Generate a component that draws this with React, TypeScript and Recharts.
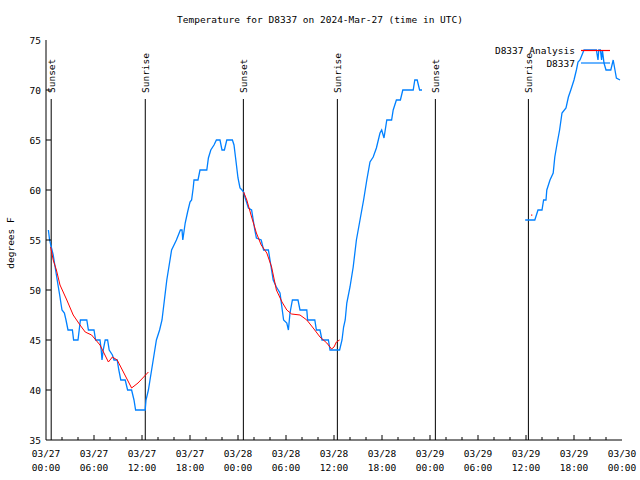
import React from 'react';
import { LineChart, Line, XAxis, YAxis, ReferenceLine, Legend } from 'recharts';

const FONT = "'DejaVu Sans Mono', 'Liberation Mono', monospace";
const FS = 9.5;

// hours since 2024-03-27 00:00 UTC
const xTicks = [0,2,4,6,8,10,12,14,16,18,20,22,24,26,28,30,32,34,36,38,40,42,44,46,48,50,52,54,56,58,60,62,64,66,68,70,72];
const yTicks = [35, 40, 45, 50, 55, 60, 65, 70, 75];
const dayNames = ['03/27', '03/28', '03/29', '03/30'];

// observed temperature (D8337)
const obsHours = [
  0.3,0.45,0.6,0.75,0.9,1.1,1.3,1.5,1.75,1.9,2.0,2.3,2.5,2.75,3.3,3.45,4.0,4.15,4.3,5.1,5.3,6.0,6.2,6.75,6.9,7.0,7.15,7.4,7.7,7.9,8.3,8.5,8.9,9.1,9.35,9.9,10.2,10.7,11.0,11.2,12.4,12.5,12.8,13.0,13.4,13.8,14.2,14.5,14.8,15.1,15.4,15.7,16.0,16.3,16.8,17.0,17.1,17.4,17.7,18.0,18.2,18.4,18.5,19.0,19.25,20.1,20.3,20.6,21.0,21.3,21.75,22.0,22.3,22.6,23.3,23.5,23.7,24.0,24.25,24.5,24.7,24.9,25.3,25.7,26.1,26.3,26.9,27.2,27.8,28.0,28.4,28.8,29.25,29.7,30.1,30.3,30.5,30.8,31.5,31.75,32.6,32.7,33.6,33.8,34.25,34.5,35.3,35.5,36.7,37.0,37.2,37.4,37.6,38.0,38.4,38.8,39.25,39.7,40.1,40.5,40.9,41.3,41.75,41.96,42.25,42.6,43.2,43.4,43.8,44.3,44.6,45.9,46.1,46.4,46.7,47.0,
  53,
  59.9,61.1,61.5,62.0,62.2,62.5,62.6,63.0,63.4,63.6,63.9,64.2,64.5,65.0,65.3,65.6,66.0,66.3,66.5,66.75,67.25,68.8,69.0,69.1,69.3,69.45,69.55,69.75,70.0,70.6,70.9,71.3,71.75
];
const obsTemps = [
  56,55,54.5,54,53.5,52.5,51.5,50.5,49.3,48.5,48,47.7,47,46,46,45,45,46,47,47,46,46,45,45,44,43,44,45,45,44,43.5,43,43,42,41,41,40,40,39,38,38,39,40,41,43,45,46,47,49,51,52.5,54,54.5,55,56,56,55,56.7,57.8,58.8,59,60.2,61,61,62,62,63.2,64,64.5,65,65,64,64,65,65,64.5,63.2,61.2,60.2,60,59.8,59.2,58.2,58,56,55.2,55,54,54,53,51,50.3,49.7,47,46.7,46,47.7,49,49,48,48,47,47,46,46,45,45,44,44,45,46.3,47,48.7,50.3,52.3,55,57,59,61,62.8,63.3,64.2,65.7,66,65.2,67,67,68,69,69,70,70,71,71,70,70,
  null,
  57,57,58,58,59,59,60,61,61.7,63.3,64.7,66,67.7,68.2,69.3,70,71,72,72.8,73,74,74,73,74,74,73,74,72.7,72,72,73,71.2,71
];

// analysis temperature (D8337 Analysis)
const anaHours = [
  0.58,0.9,1.3,1.75,2.6,3.4,4.25,4.9,5.7,6.75,7.8,8.3,8.9,10.7,11.5,12.8,
  18,
  24.7,25.1,25.7,26.3,26.9,27.6,28.2,28.8,29.5,30.1,30.7,31.75,32.6,33.4,34.25,35.1,35.7,36.0,36.3,36.7,
  48,
  60.7,
  61
];
const anaTemps = [
  54.3,53,52,50.5,49,47.5,46.5,45.8,45.5,44.5,42.8,43.3,43,40.2,40.7,41.8,
  null,
  59.8,59,57.3,55.7,54.5,53.7,52.3,50,48.8,48,47.6,47.5,47,46.2,45.3,44.7,44.1,44.3,44.8,45,
  null,
  57.5,
  null
];

const sunEvents = ['Sunset', 'Sunrise', 'Sunset', 'Sunrise', 'Sunset', 'Sunrise'];
const sunHours = [0.65, 12.41, 24.67, 36.42, 48.67, 60.3];
const sunLineTop = 69.1;

const obsData = obsHours.map((h, i) => ({ h, t: obsTemps[i] }));
const anaData = anaHours.map((h, i) => ({
  h,
  t: anaTemps[i],
  iso: anaTemps[i] !== null && (i === 0 || anaTemps[i - 1] === null) && (i === anaHours.length - 1 || anaTemps[i + 1] === null),
}));

const BottomTick = (props: any) => {
  const { x, y, payload } = props;
  const v = payload.value as number;
  const major = v % 6 === 0;
  const len = major ? 5 : 3;
  return (
    <g>
      {v > 0 && v < 72 && <line x1={x} y1={y} x2={x} y2={y - len} stroke="#000" />}
      {major && (
        <text x={x} y={y + 16.5} textAnchor="middle" fontFamily={FONT} fontSize={FS} fill="#000">
          {dayNames[Math.floor(v / 24)]}
        </text>
      )}
      {major && (
        <text x={x} y={y + 30.5} textAnchor="middle" fontFamily={FONT} fontSize={FS} fill="#000">
          {String(v % 24).padStart(2, '0') + ':00'}
        </text>
      )}
    </g>
  );
};

const TopTick = (props: any) => {
  const { x, y, payload } = props;
  const v = payload.value as number;
  const len = v % 6 === 0 ? 5 : 3;
  if (v <= 0 || v >= 72) return <g />;
  return <line x1={x} y1={y} x2={x} y2={y + len} stroke="#000" />;
};

const LeftTick = (props: any) => {
  const { x, y, payload } = props;
  const v = payload.value as number;
  return (
    <g>
      {v > 35 && v < 75 && <line x1={x} y1={y} x2={x + 5} y2={y} stroke="#000" />}
      <text x={x - 5} y={y + 3.5} textAnchor="end" fontFamily={FONT} fontSize={FS} fill="#000">
        {v}
      </text>
    </g>
  );
};

const RightTick = (props: any) => {
  const { x, y, payload } = props;
  const v = payload.value as number;
  if (v <= 35 || v >= 75) return <g />;
  return <line x1={x} y1={y} x2={x - 5} y2={y} stroke="#000" />;
};

const YLabel = (props: any) => {
  const vb = props.viewBox || { x: 0, y: 40, width: 46, height: 400 };
  const cx = vb.x + 13.5;
  const cy = vb.y + vb.height / 2 + 3;
  return (
    <text x={cx} y={cy} transform={`rotate(-90 ${cx} ${cy})`} textAnchor="middle" fontFamily={FONT} fontSize={FS} fill="#000">
      degrees F
    </text>
  );
};

const makeSunLabel = (text: string) => (props: any) => {
  const vb = props.viewBox;
  if (!vb) return null;
  const tx = vb.x + 4;
  const ty = vb.y - 6;
  return (
    <text x={tx} y={ty} transform={`rotate(-90 ${tx} ${ty})`} textAnchor="start" fontFamily={FONT} fontSize={FS} fill="#000">
      {text}
    </text>
  );
};

const IsoDot = (props: any) => {
  const { cx, cy, payload, index } = props;
  if (!payload || !payload.iso || cx == null || cy == null) return <g key={`d${index}`} />;
  return <rect key={`d${index}`} x={cx - 0.5} y={cy - 0.5} width={1.2} height={1.2} fill="#ff0000" />;
};

const LegendContent = (props: any) => {
  const payload = [...(props.payload || [])].reverse();
  return (
    <svg width={140} height={30} style={{ display: 'block' }}>
      {payload.map((p: any, i: number) => (
        <g key={p.value}>
          <text x={95} y={12 + i * 12.5} textAnchor="end" fontFamily={FONT} fontSize={FS} fill="#000">
            {p.value}
          </text>
          <line x1={101} x2={130} y1={8.5 + i * 12.5} y2={8.5 + i * 12.5} stroke={p.color} strokeWidth={1.2} />
        </g>
      ))}
    </svg>
  );
};

export default function App() {
  return (
    <div style={{ position: 'absolute', left: 0, top: 0, width: 640, height: 480, background: '#fff' }}>
      <div
        style={{
          position: 'absolute', top: 14, left: 0, width: 640, textAlign: 'center',
          fontFamily: FONT, fontSize: FS, lineHeight: '12px', color: '#000', zIndex: 2,
        }}
      >
        Temperature for D8337 on 2024-Mar-27 (time in UTC)
      </div>
      <LineChart width={640} height={480} margin={{ top: 40, right: 18, bottom: 0, left: 0 }}>
        <XAxis
          xAxisId="b" dataKey="h" type="number" domain={[0, 72]} ticks={xTicks} interval={0}
          orientation="bottom" height={40} tickSize={0} tickMargin={0} tickLine={false}
          axisLine={{ stroke: '#000' }} tick={BottomTick} allowDataOverflow
        />
        <XAxis
          xAxisId="t" dataKey="h" type="number" domain={[0, 72]} ticks={xTicks} interval={0}
          orientation="top" height={0} tickSize={0} tickMargin={0} tickLine={false}
          axisLine={{ stroke: '#000' }} tick={TopTick} allowDataOverflow
        />
        <YAxis
          yAxisId="l" type="number" domain={[35, 75]} ticks={yTicks} interval={0}
          orientation="left" width={46} tickSize={0} tickMargin={0} tickLine={false}
          axisLine={{ stroke: '#000' }} tick={LeftTick} label={YLabel} allowDataOverflow
        />
        <YAxis
          yAxisId="r" type="number" domain={[35, 75]} ticks={yTicks} interval={0}
          orientation="right" width={0} tickSize={0} tickMargin={0} tickLine={false}
          axisLine={{ stroke: '#000' }} tick={RightTick} allowDataOverflow
        />
        {sunHours.map((h, i) => (
          <ReferenceLine
            key={`sun${i}`}
            xAxisId="b" yAxisId="l"
            segment={[{ x: h, y: sunLineTop }, { x: h, y: 35 }]}
            stroke="#000" strokeWidth={1}
            label={makeSunLabel(sunEvents[i])}
            ifOverflow="visible"
          />
        ))}
        <Line
          xAxisId="b" yAxisId="l" data={obsData} dataKey="t" name="D8337"
          type="linear" stroke="#0080ff" strokeWidth={1.3} dot={false}
          isAnimationActive={false} connectNulls={false}
        />
        <Line
          xAxisId="b" yAxisId="l" data={anaData} dataKey="t" name="D8337 Analysis"
          type="linear" stroke="#ff0000" strokeWidth={1} dot={IsoDot} activeDot={false}
          isAnimationActive={false} connectNulls={false}
        />
        <Legend
          layout="horizontal" verticalAlign="middle" align="center"
          content={LegendContent}
          wrapperStyle={{ position: 'absolute', top: 42, left: 480, width: 140, height: 30 }}
        />
      </LineChart>
    </div>
  );
}
